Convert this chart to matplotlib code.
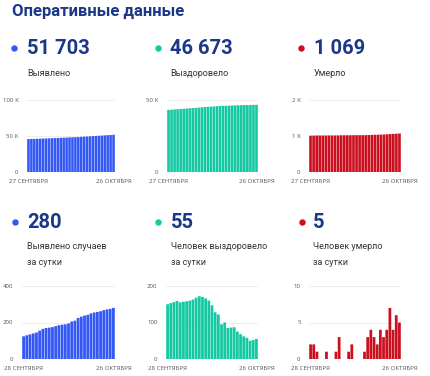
import numpy as np
import matplotlib
matplotlib.use("Agg")
import matplotlib.pyplot as plt
from matplotlib.lines import Line2D

plt.rcParams['font.family'] = ['Roboto', 'DejaVu Sans']

# cumulative, 27 Sep - 26 Oct
cases_total = [45782, 45906, 46036, 46171, 46311, 46456, 46611, 46776, 46946, 47118,
               47293, 47473, 47658, 47846, 48036, 48231, 48436, 48646, 48871, 49103,
               49341, 49583, 49833, 50088, 50346, 50608, 50876, 51148, 51423, 51703]
recovered_total = [43156, 43306, 43459, 43615, 43774, 43929, 44086, 44244, 44404, 44567,
                   44735, 44907, 45077, 45243, 45403, 45550, 45678, 45800, 45895, 45995,
                   46080, 46166, 46253, 46328, 46396, 46458, 46516, 46566, 46618, 46673]
deaths_total = [1010, 1012, 1014, 1015, 1015, 1015, 1016, 1016, 1016, 1017,
                1020, 1020, 1020, 1021, 1023, 1023, 1023, 1023, 1024, 1027,
                1031, 1034, 1036, 1040, 1043, 1047, 1054, 1058, 1064, 1069]

# daily, 28 Sep - 26 Oct
cases_daily = [124, 130, 135, 140, 145, 155, 165, 170, 172, 175, 180, 185, 188, 190, 195,
               205, 210, 225, 232, 238, 242, 250, 255, 258, 262, 268, 272, 275, 280]
recovered_daily = [150, 153, 156, 159, 155, 157, 158, 160, 163, 168, 172, 170, 166, 160, 147,
                   128, 122, 95, 100, 85, 86, 87, 75, 68, 62, 58, 50, 52, 55]
deaths_daily = [2, 2, 1, 0, 0, 1, 0, 0, 1, 3, 0, 0, 1, 2, 0,
                0, 0, 1, 3, 4, 3, 2, 4, 3, 4, 7, 4, 6, 5]

top_numbers = ["51 703", "46 673", "1 069"]
top_labels = ["Выявлено", "Выздоровело", "Умерло"]
bottom_numbers = ["280", "55", "5"]
bottom_labels = ["Выявлено случаев\nза сутки", "Человек выздоровело\nза сутки", "Человек умерло\nза сутки"]
colors = ["#3358f4", "#14c9a2", "#cc0f1f"]

top_ticks = [([0, 50000, 100000], ["0", "50 K", "100 K"]),
             ([0, 50000], ["0", "50 K"]),
             ([0, 1000, 2000], ["0", "1 K", "2 K"])]
bottom_ticks = [([0, 200, 400], ["0", "200", "400"]),
                ([0, 100, 200], ["0", "100", "200"]),
                ([0, 5, 10], ["0", "5", "10"])]

W, H = 430, 376
fig = plt.figure(figsize=(W / 100, H / 100), dpi=100)
navy = "#1b3888"

fig.text(12 / W, 1 - 11 / H, "Оперативные данные", fontsize=12, fontweight="bold",
         color=navy, va="center", ha="left")


def px_axes(x0, x1, ytop, ybot):
    return fig.add_axes([x0 / W, 1 - ybot / H, (x1 - x0) / W, (ybot - ytop) / H])


def draw(ax, vals, color, ticks, dates):
    x = np.arange(len(vals))
    bars = ax.bar(x, vals, width=0.87, color=color, linewidth=0)
    for b in bars:
        b.set_snap(False)
    ax.set_xlim(-0.5, len(vals) - 0.5)
    ax.set_ylim(ticks[0][0], ticks[0][-1])
    ax.set_yticks(ticks[0])
    ax.set_yticklabels(ticks[1], family="Open Sans")
    ax.set_xticks([0, len(vals) - 1])
    ax.set_xticklabels(dates, family="Open Sans")
    ax.tick_params(length=0, labelsize=4.4, labelcolor="#555555", pad=5)
    ax.tick_params(axis="y", pad=6)
    for s in ax.spines.values():
        s.set_visible(False)
    ax.grid(axis="y", color="#ebebeb", linewidth=0.6)
    ax.set_axisbelow(True)


def header(xdot, xnum, ynum, ylab, num, lab, color):
    fig.add_artist(Line2D([xdot / W], [1 - ynum / H], marker="o", markersize=3.6,
                          color=color, linestyle="none"))
    fig.text(xnum / W, 1 - ynum / H, num, fontsize=14.5, fontweight="bold", color=navy,
             va="center", ha="left")
    fig.text(xnum / W, 1 - ylab / H, lab, fontsize=6.5, color="#333333", va="center",
             ha="left", linespacing=2.0)


top_x = [(27, 115), (167, 258), (309, 401)]
top_dots = [(14, 27), (158, 170), (301, 314)]
top_series = [cases_total, recovered_total, deaths_total]
for i in range(3):
    ax = px_axes(top_x[i][0], top_x[i][1], 100, 172)
    draw(ax, top_series[i], colors[i], top_ticks[i], ["27 СЕНТЯБРЯ", "26 ОКТЯБРЯ"])
    header(top_dots[i][0], top_dots[i][1], 48, 73, top_numbers[i], top_labels[i], colors[i])

bot_x = [(22, 115), (166, 258), (309, 401)]
bot_dots = [(15, 27), (158, 171), (302, 313)]
bot_series = [cases_daily, recovered_daily, deaths_daily]
for i in range(3):
    ax = px_axes(bot_x[i][0], bot_x[i][1], 286, 359)
    draw(ax, bot_series[i], colors[i], bottom_ticks[i], ["28 СЕНТЯБРЯ", "26 ОКТЯБРЯ"])
    header(bot_dots[i][0], bot_dots[i][1], 222, 254.5, bottom_numbers[i], bottom_labels[i], colors[i])

fig.savefig("out.png", dpi=100)
